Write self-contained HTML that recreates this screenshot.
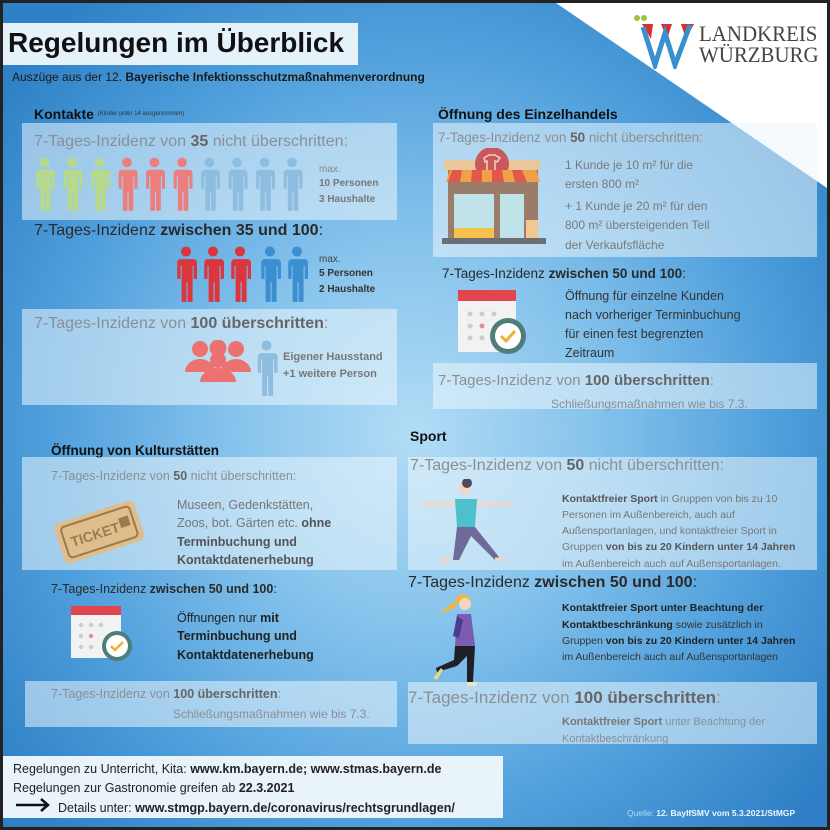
<!DOCTYPE html>
<html><head><meta charset="utf-8">
<style>
*{margin:0;padding:0;box-sizing:border-box}
body{width:830px;height:830px;overflow:hidden;background:#222;font-family:"Liberation Sans",sans-serif}
#c{position:absolute;left:3px;top:3px;width:824px;height:824px;overflow:hidden;
background:radial-gradient(ellipse 520px 560px at 410px 430px,#b2dcf5 0%,#86c3ec 35%,#4f9fdc 70%,#2f80c6 100%)}
.t{position:absolute;white-space:nowrap;line-height:1}
.box{position:absolute;background:rgba(235,245,252,0.55)}
.g{color:#8a8f94}
.d{color:#2a2a2a}
b{font-weight:bold}
</style></head><body>
<div id="c">
<svg style="position:absolute;left:0;top:0" width="824" height="824">
<defs>
<symbol id="p" viewBox="0 0 20 52">
<circle cx="10" cy="5" r="4.6"/>
<path d="M3 12 h14 a3 3 0 0 1 3 3 v15 h-3 v-12 h-1 v33 h-4.5 v-18 h-1 v18 h-4.5 v-33 h-1 v12 h-3 v-15 a3 3 0 0 1 3 -3z"/>
</symbol>
</defs>
<polygon points="553,0 824,0 824,185" fill="#fff"/>
</svg>

<!-- title -->
<div style="position:absolute;left:0;top:20px;width:355px;height:42px;background:#e6f2fa"></div>
<div class="t" style="left:5px;top:26px;font-size:28px;font-weight:bold;color:#111">Regelungen im Überblick</div>
<div class="t" style="left:9px;top:68px;font-size:12px;color:#1a1a1a">Auszüge aus der 12. <b>Bayerische Infektionsschutzmaßnahmenverordnung</b></div>

<!-- logo -->
<svg style="position:absolute;left:628px;top:8px" width="72" height="58">
<circle cx="6" cy="7" r="3" fill="#9bc53d"/><circle cx="13" cy="7" r="3" fill="#9bc53d"/>
<polygon points="11,13 22,13 20,28" fill="#d9302c"/><polygon points="30,13 41,13 36,28" fill="#d9302c"/><polygon points="50,13 63,13 55,28" fill="#d9302c"/>
<polyline points="12,16 24,54 34,22 44,54 59,14" fill="none" stroke="#3a8fcf" stroke-width="5"/>
</svg>
<div class="t" style="left:696px;top:20px;font-family:'Liberation Serif',serif;font-size:22px;color:#444;transform:scaleX(0.95);transform-origin:left">LANDKREIS</div>
<div class="t" style="left:696px;top:41px;font-family:'Liberation Serif',serif;font-size:22px;color:#444;transform:scaleX(0.95);transform-origin:left">WÜRZBURG</div>

<!-- Kontakte -->
<div class="t" style="left:31px;top:104px;font-size:14px;font-weight:bold;color:#111">Kontakte <span style="font-size:6px;font-weight:normal;color:#333;vertical-align:4px">(Kinder unter 14 ausgenommen)</span></div>
<div class="box" style="left:19px;top:120px;width:375px;height:97px"></div>
<div class="t g" style="left:31px;top:131px;font-size:16px">7-Tages-Inzidenz von <b style="color:#666">35</b> nicht überschritten:</div>
<svg style="position:absolute;left:31px;top:154px" width="280" height="56">
<g fill="#b7d98b"><use href="#p" x="0" width="21" height="55"/><use href="#p" x="27.5" width="21" height="55"/><use href="#p" x="55" width="21" height="55"/></g>
<g fill="#ec7e7e"><use href="#p" x="82.5" width="21" height="55"/><use href="#p" x="110" width="21" height="55"/><use href="#p" x="137.5" width="21" height="55"/></g>
<g fill="#8fbde0"><use href="#p" x="165" width="21" height="55"/><use href="#p" x="192.5" width="21" height="55"/><use href="#p" x="220" width="21" height="55"/><use href="#p" x="247.5" width="21" height="55"/></g>
</svg>
<div class="t" style="left:316px;top:162px;font-size:10px;color:#888">max.</div>
<div class="t" style="left:316px;top:176px;font-size:10px;font-weight:bold;color:#777">10 Personen</div>
<div class="t" style="left:316px;top:192px;font-size:10px;font-weight:bold;color:#777">3 Haushalte</div>

<div class="t d" style="left:31px;top:220px;font-size:16px">7-Tages-Inzidenz <b>zwischen 35 und 100</b>:</div>
<svg style="position:absolute;left:172px;top:243px" width="140" height="58">
<g fill="#d9363e"><use href="#p" x="0" width="22" height="57"/><use href="#p" x="27" width="22" height="57"/><use href="#p" x="54" width="22" height="57"/></g>
<g fill="#3b8fd0"><use href="#p" x="84" width="22" height="57"/><use href="#p" x="111" width="22" height="57"/></g>
</svg>
<div class="t" style="left:316px;top:252px;font-size:10px;color:#444">max.</div>
<div class="t" style="left:316px;top:266px;font-size:10px;font-weight:bold;color:#333">5 Personen</div>
<div class="t" style="left:316px;top:282px;font-size:10px;font-weight:bold;color:#333">2 Haushalte</div>

<div class="box" style="left:19px;top:306px;width:375px;height:96px"></div>
<div class="t g" style="left:31px;top:313px;font-size:16px">7-Tages-Inzidenz von <b style="color:#666">100 überschritten</b>:</div>
<svg style="position:absolute;left:180px;top:337px" width="70" height="42">
<g fill="#ec7272">
<circle cx="17" cy="9" r="8"/><circle cx="35" cy="8" r="8.5"/><circle cx="53" cy="9" r="8"/>
<path d="M2 32 a15 13 0 0 1 30 0z"/><path d="M38 32 a15 13 0 0 1 30 0z"/>
<circle cx="35" cy="20" r="8"/><path d="M17 42 a18 14 0 0 1 36 0z"/>
</g></svg>
<svg style="position:absolute;left:252px;top:337px" width="24" height="58"><use href="#p" fill="#8fbde0" x="0" width="23" height="57"/></svg>
<div class="t" style="left:280px;top:349px;font-size:11px;font-weight:bold;color:#777">Eigener Hausstand</div>
<div class="t" style="left:280px;top:366px;font-size:11px;font-weight:bold;color:#777">+1 weitere Person</div>

<!-- Einzelhandel -->
<div class="t" style="left:435px;top:104px;font-size:14px;font-weight:bold;color:#111">Öffnung des Einzelhandels</div>
<div class="box" style="left:430px;top:120px;width:384px;height:134px"></div>
<div class="t g" style="left:435px;top:128px;font-size:13.5px">7-Tages-Inzidenz von <b style="color:#666">50</b> nicht überschritten:</div>
<svg style="position:absolute;left:439px;top:145px" width="105" height="100">
<rect x="2" y="12" width="96" height="10" fill="#e8c89a"/>
<circle cx="50" cy="16" r="17" fill="#c8585a"/><path d="M42 10 l5-3 h6 l5 3 -3 4 -2-1 v10 h-8 v-10 l-2 1z" fill="none" stroke="#f4d0c0" stroke-width="1.5"/>
<rect x="6" y="22" width="90" height="70" fill="#9a7c6a"/>
<path d="M4 34 h94 l-4 -12 h-86z" fill="#f0a048"/>
<g fill="#e2584a"><path d="M10 22 h10 l-2 12 h-12z"/><path d="M30 22 h10 v12 h-11z"/><path d="M50 22 h10 l2 12 h-12z"/><path d="M70 22 h10 l5 12 h-12z"/></g>
<rect x="12" y="46" width="40" height="38" fill="#bfe3e8"/><rect x="12" y="80" width="40" height="10" fill="#f6c04a"/>
<rect x="58" y="46" width="24" height="44" fill="#bfe3e8"/>
<rect x="84" y="72" width="12" height="18" fill="#f0c890"/>
<rect x="0" y="90" width="104" height="6" fill="#6d6d78"/>
</svg>
<div class="t" style="left:562px;top:156px;font-size:12px;color:#7a7a7a">1 Kunde je 10 m² für die</div>
<div class="t" style="left:562px;top:175px;font-size:12px;color:#7a7a7a">ersten 800 m²</div>
<div class="t" style="left:562px;top:197px;font-size:12px;color:#7a7a7a">+ 1 Kunde je 20 m² für den</div>
<div class="t" style="left:562px;top:216px;font-size:12px;color:#7a7a7a">800 m² übersteigenden Teil</div>
<div class="t" style="left:562px;top:236px;font-size:12px;color:#7a7a7a">der Verkaufsfläche</div>

<div class="t d" style="left:439px;top:264px;font-size:13.5px">7-Tages-Inzidenz <b>zwischen 50 und 100</b>:</div>
<svg style="position:absolute;left:453px;top:283px" width="78" height="72">
<rect x="2" y="4" width="58" height="62" fill="#f2f2f2"/><rect x="2" y="4" width="58" height="11" fill="#e0464c"/>
<g fill="#ccc"><circle cx="14" cy="28" r="2.5"/><circle cx="26" cy="28" r="2.5"/><circle cx="38" cy="28" r="2.5"/><circle cx="14" cy="40" r="2.5"/><circle cx="14" cy="52" r="2.5"/><circle cx="26" cy="52" r="2.5"/></g>
<circle cx="26" cy="40" r="2.5" fill="#e98a9a"/>
<circle cx="52" cy="50" r="18" fill="#4d7e7a"/><circle cx="52" cy="50" r="13" fill="#fff"/>
<path d="M45 50 l5 5 9-10" fill="none" stroke="#f0b030" stroke-width="3"/>
</svg>
<div class="t" style="left:562px;top:287px;font-size:12.5px;color:#333">Öffnung für einzelne Kunden</div>
<div class="t" style="left:562px;top:306px;font-size:12.5px;color:#333">nach vorheriger Terminbuchung</div>
<div class="t" style="left:562px;top:325px;font-size:12.5px;color:#333">für einen fest begrenzten</div>
<div class="t" style="left:562px;top:344px;font-size:12.5px;color:#333">Zeitraum</div>

<div class="box" style="left:430px;top:360px;width:384px;height:46px"></div>
<div class="t g" style="left:435px;top:370px;font-size:15px">7-Tages-Inzidenz von <b style="color:#666">100 überschritten</b>:</div>
<div class="t g" style="left:548px;top:395px;font-size:12px">Schließungsmaßnahmen wie bis 7.3.</div>

<!-- Kultur -->
<div class="t" style="left:48px;top:441px;font-size:13.5px;font-weight:bold;color:#111">Öffnung von Kulturstätten</div>
<div class="box" style="left:19px;top:454px;width:375px;height:113px"></div>
<div class="t g" style="left:48px;top:467px;font-size:12.5px">7-Tages-Inzidenz von <b style="color:#666">50</b> nicht überschritten:</div>
<svg style="position:absolute;left:46px;top:494px" width="100" height="68">
<g transform="rotate(-18 50 34)">
<rect x="8" y="14" width="84" height="42" rx="6" fill="#e0be8c"/>
<rect x="14" y="19" width="72" height="32" rx="4" fill="none" stroke="#9c7a50" stroke-width="2"/>
<text x="20" y="41" font-family="Liberation Sans" font-size="14" font-weight="bold" fill="#9c7a50">TICKET</text>
<rect x="72" y="28" width="10" height="10" fill="#9c7a50"/>
</g></svg>
<div class="t" style="left:174px;top:496px;font-size:12.5px;color:#777">Museen, Gedenkstätten,</div>
<div class="t" style="left:174px;top:514px;font-size:12.5px;color:#777">Zoos, bot. Gärten etc. <b style="color:#555">ohne</b></div>
<div class="t" style="left:174px;top:533px;font-size:12.5px;font-weight:bold;color:#555">Terminbuchung und</div>
<div class="t" style="left:174px;top:551px;font-size:12.5px;font-weight:bold;color:#555">Kontaktdatenerhebung</div>

<div class="t d" style="left:48px;top:580px;font-size:12.5px">7-Tages-Inzidenz <b>zwischen 50 und 100</b>:</div>
<svg style="position:absolute;left:66px;top:600px" width="68" height="60">
<rect x="2" y="3" width="50" height="52" fill="#f2f2f2"/><rect x="2" y="3" width="50" height="9" fill="#e0464c"/>
<g fill="#ccc"><circle cx="12" cy="22" r="2.2"/><circle cx="22" cy="22" r="2.2"/><circle cx="32" cy="22" r="2.2"/><circle cx="12" cy="33" r="2.2"/><circle cx="12" cy="44" r="2.2"/><circle cx="22" cy="44" r="2.2"/></g>
<circle cx="22" cy="33" r="2.2" fill="#e98a9a"/>
<circle cx="48" cy="43" r="15" fill="#4d7e7a"/><circle cx="48" cy="43" r="11" fill="#fff"/>
<path d="M42 43 l4 4 8-8" fill="none" stroke="#f0b030" stroke-width="2.5"/>
</svg>
<div class="t" style="left:174px;top:609px;font-size:12.5px;color:#222">Öffnungen nur <b>mit</b></div>
<div class="t" style="left:174px;top:627px;font-size:12.5px;font-weight:bold;color:#222">Terminbuchung und</div>
<div class="t" style="left:174px;top:646px;font-size:12.5px;font-weight:bold;color:#222">Kontaktdatenerhebung</div>

<div class="box" style="left:22px;top:678px;width:372px;height:46px"></div>
<div class="t g" style="left:48px;top:685px;font-size:12.5px">7-Tages-Inzidenz von <b style="color:#666">100 überschritten</b>:</div>
<div class="t g" style="left:170px;top:705px;font-size:12px">Schließungsmaßnahmen wie bis 7.3.</div>

<!-- Sport -->
<div class="t" style="left:407px;top:426px;font-size:14px;font-weight:bold;color:#111">Sport</div>
<div class="box" style="left:405px;top:454px;width:409px;height:113px"></div>
<div class="t g" style="left:407px;top:455px;font-size:16px">7-Tages-Inzidenz von <b style="color:#666">50</b> nicht überschritten:</div>
<svg style="position:absolute;left:416px;top:476px" width="96" height="86">
<circle cx="46" cy="9" r="6" fill="#f5d5c0"/><circle cx="48" cy="4" r="5" fill="#4a4a5a"/>
<path d="M2 25 h36 M58 25 h36" stroke="#f5d5c0" stroke-width="3"/>
<path d="M36 20 h22 l-2 28 h-18z" fill="#4ec0cc"/>
<path d="M38 48 h18 l24 30 -4 3 -24 -24 -12 24 h-6 z" fill="#6e6a9a"/>
<path d="M20 81 h12 M76 80 h10" stroke="#f5d5c0" stroke-width="3"/>
</svg>
<div class="t" style="left:559px;top:491px;font-size:10.5px;color:#777"><b style="color:#555">Kontaktfreier Sport</b> in Gruppen von bis zu 10</div>
<div class="t" style="left:559px;top:507px;font-size:10.5px;color:#777">Personen im Außenbereich, auch auf</div>
<div class="t" style="left:559px;top:523px;font-size:10.5px;color:#777">Außensportanlagen, und kontaktfreier Sport in</div>
<div class="t" style="left:559px;top:539px;font-size:10.5px;color:#777">Gruppen <b style="color:#555">von bis zu 20 Kindern unter 14 Jahren</b></div>
<div class="t" style="left:559px;top:556px;font-size:10.5px;color:#777">im Außenbereich auch auf Außensportanlagen.</div>

<div class="t d" style="left:405px;top:572px;font-size:16px">7-Tages-Inzidenz <b>zwischen 50 und 100</b>:</div>
<svg style="position:absolute;left:430px;top:589px" width="74" height="98">
<path d="M22 8 c4-8 14-8 16 2 l-4 8 -6 -2z" fill="#f0b840"/><path d="M24 8 q-10 6 -18 14 q10 -4 16 -6z" fill="#f0b840"/>
<circle cx="32" cy="12" r="6" fill="#f5d5c0"/>
<path d="M24 22 h14 l4 32 h-20z" fill="#7a5cb0"/><path d="M24 24 l-4 20 6 2 4-18z" fill="#4a3c90"/>
<path d="M22 54 h20 l-2 36 h-6 l0 -26 -10 10 -20 6 -1-4 18-8z" fill="#1f1f28"/>
<path d="M0 86 l8 -10 2 2 -6 10z" fill="#e0d890"/><rect x="34" y="90" width="10" height="4" fill="#e0d890"/>
</svg>
<div class="t" style="left:559px;top:600px;font-size:10.5px;font-weight:bold;color:#222">Kontaktfreier Sport unter Beachtung der</div>
<div class="t" style="left:559px;top:617px;font-size:10.5px;color:#333"><b style="color:#222">Kontaktbeschränkung</b> sowie zusätzlich in</div>
<div class="t" style="left:559px;top:633px;font-size:10.5px;color:#333">Gruppen <b style="color:#222">von bis zu 20 Kindern unter 14 Jahren</b></div>
<div class="t" style="left:559px;top:649px;font-size:10.5px;color:#333">im Außenbereich auch auf Außensportanlagen</div>

<div class="box" style="left:405px;top:679px;width:409px;height:62px"></div>
<div class="t g" style="left:405px;top:686px;font-size:17px">7-Tages-Inzidenz von <b style="color:#666">100 überschritten</b>:</div>
<div class="t g" style="left:559px;top:714px;font-size:11px"><b style="color:#777">Kontaktfreier Sport</b> unter Beachtung der</div>
<div class="t g" style="left:559px;top:731px;font-size:11px">Kontaktbeschränkung</div>

<!-- footer -->
<div style="position:absolute;left:0;top:753px;width:500px;height:62px;background:#e9f3fa"></div>
<div class="t" style="left:10px;top:760px;font-size:12.5px;color:#222">Regelungen zu Unterricht, Kita: <b>www.km.bayern.de; www.stmas.bayern.de</b></div>
<div class="t" style="left:10px;top:779px;font-size:12.5px;color:#222">Regelungen zur Gastronomie greifen ab <b>22.3.2021</b></div>
<svg style="position:absolute;left:12px;top:794px" width="40" height="16"><path d="M1 8 h32 M26 2 l7 6 -7 6" fill="none" stroke="#111" stroke-width="2.5"/></svg>
<div class="t" style="left:55px;top:799px;font-size:12.5px;color:#222">Details unter: <b>www.stmgp.bayern.de/coronavirus/rechtsgrundlagen/</b></div>
<div class="t" style="left:624px;top:806px;font-size:8.5px;color:#b8d8f0">Quelle: <b style="color:#eef6ff">12. BayIfSMV vom 5.3.2021/StMGP</b></div>
</div>
</body></html>
